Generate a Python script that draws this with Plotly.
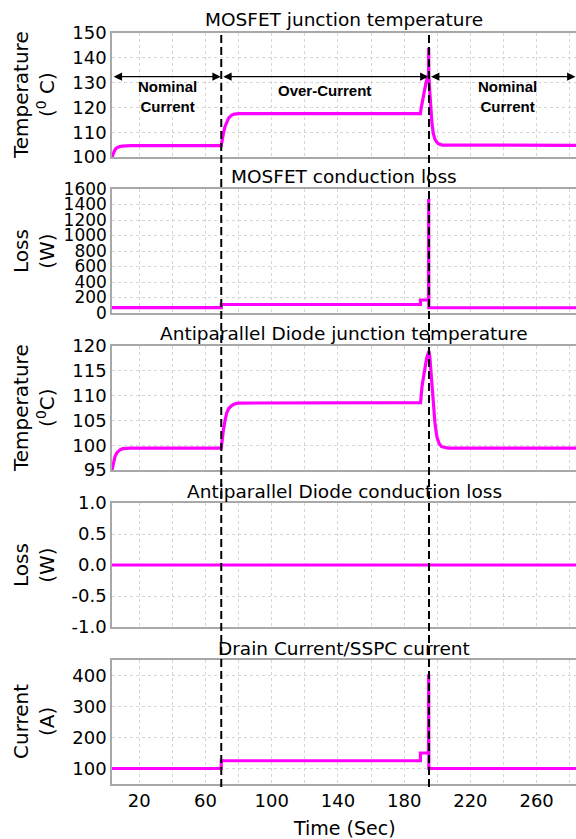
import plotly.graph_objects as go

# ---------------- data ----------------
# MOSFET junction temperature
t_mos_temp = [3.5, 4.3, 5.1, 6.0, 7.0, 8.1, 9.5, 12.1, 15.0, 69.5, 69.9, 70.8, 71.8, 72.8, 74.0, 75.8, 77.5, 80.0,
              189.8, 190.2, 190.8, 191.5, 192.3, 193.2, 194.0, 194.7, 194.8, 194.9, 195.5, 196.0, 196.8, 197.6,
              198.5, 199.6, 201.0, 203.0, 283.8]
v_mos_temp = [100.0, 101.6, 102.7, 103.5, 104.0, 104.2, 104.4, 104.5, 104.6, 104.6, 106.5, 109.6, 112.3, 114.2, 115.8,
              116.9, 117.3, 117.5,
              117.5, 119.5, 122.0, 124.5, 127.0, 130.0, 132.0, 133.5, 144.0, 133.0, 126.0, 120.3, 113.5, 109.5,
              107.3, 106.1, 105.2, 104.8, 104.7]

# MOSFET conduction loss
t_mos_loss = [3.5, 69.5, 69.5, 189.8, 189.8, 194.7, 194.8, 194.9, 283.8]
v_mos_loss = [70, 70, 110, 110, 168, 168, 1470, 68, 68]

# Antiparallel diode junction temperature
t_dio_temp = [3.5, 4.3, 5.3, 6.5, 8.3, 10.0, 12.4, 15.0, 69.5, 69.9, 70.8, 71.8, 72.8, 74.0, 75.8, 77.5, 79.8,
              189.9, 190.3, 190.8, 191.6, 192.6, 193.6, 194.6, 195.0, 195.5, 196.0, 196.6, 197.2, 197.9, 198.6,
              199.3, 200.0, 201.2, 202.6, 206.6, 283.8]
v_dio_temp = [95.0, 96.5, 97.7, 98.5, 99.05, 99.3, 99.4, 99.4, 99.4, 101.0, 103.1, 105.0, 106.5, 107.4, 108.0, 108.3,
              108.5,
              108.6, 110.5, 111.9, 113.6, 115.9, 117.6, 118.6, 119.0, 117.8, 115.3, 112.6, 109.9, 107.0, 104.5,
              102.7, 101.4, 100.3, 99.7, 99.4, 99.4]

# Antiparallel diode conduction loss
t_dio_loss = [3.5, 283.8]
v_dio_loss = [0.0, 0.0]

# Drain current / SSPC current
t_cur = [3.5, 69.5, 69.5, 189.8, 189.8, 194.7, 194.8, 194.9, 283.8]
v_cur = [100, 100, 125, 125, 150, 150, 404, 100, 100]

# event times (dashed markers)
t_events = [69.5, 195.0]

# axis ticks
x_grid = [20, 40, 60, 80, 100, 120, 140, 160, 180, 200, 220, 240, 260, 280]
x_labels = ["20", "", "60", "", "100", "", "140", "", "180", "", "220", "", "260", ""]

titles = ["MOSFET junction temperature", "MOSFET conduction loss",
          "Antiparallel Diode junction temperature", "Antiparallel Diode conduction loss",
          "Drain Current/SSPC current"]
ytitles = ["Temperature<br>(<sup>0</sup> C)", "Loss<br>(W)", "Temperature<br>(<sup>0</sup>C)",
           "Loss<br>(W)", "Current<br>(A)"]
y_ranges = [[100, 150], [0, 1600], [95, 120], [-1, 1], [50, 450]]
y_ticks = [[100, 110, 120, 130, 140, 150],
           [0, 200, 400, 600, 800, 1000, 1200, 1400, 1600],
           [95, 100, 105, 110, 115, 120],
           [-1.0, -0.5, 0.0, 0.5, 1.0],
           [100, 200, 300, 400]]
y_ticktext = [[str(v) for v in y_ticks[0]],
              [str(v) for v in y_ticks[1]],
              [str(v) for v in y_ticks[2]],
              ["-1.0", "-0.5", "0.0", "0.5", "1.0"],
              [str(v) for v in y_ticks[4]]]

# ---------------- layout geometry (pixels) ----------------
W, H = 576, 839
ML, MR, MT, MB = 112, 0, 33, 55
PW, PH = W - ML - MR, H - MT - MB
panels_px = [(33, 157), (189, 313), (346, 470), (503, 627), (660, 784)]
title_px = [19.5, 176.5, 333, 491, 648]


def py(p):
    return (H - MB - p) / PH


def px(p):
    return (p - ML) / PW


MAG = "#FF00FF"
FONT = "DejaVu Sans"
GRID = "#d6d6d6"
xs = [t_mos_temp, t_mos_loss, t_dio_temp, t_dio_loss, t_cur]
ys = [v_mos_temp, v_mos_loss, v_dio_temp, v_dio_loss, v_cur]

fig = go.Figure()
for i in range(5):
    sfx = "" if i == 0 else str(i + 1)
    fig.add_trace(go.Scatter(x=xs[i], y=ys[i], mode="lines",
                             line=dict(color=MAG, width=3.2),
                             xaxis="x" + sfx, yaxis="y" + sfx, showlegend=False,
                             hoverinfo="skip"))

layout = dict(width=W, height=H, margin=dict(l=ML, r=MR, t=MT, b=MB, pad=0),
              paper_bgcolor="white", plot_bgcolor="white",
              font=dict(family=FONT, color="black"), showlegend=False)

for i in range(5):
    sfx = "" if i == 0 else str(i + 1)
    top, bot = panels_px[i]
    layout["xaxis" + sfx] = dict(
        domain=[0, 1], anchor="y" + sfx, range=[3.5, 283.8],
        tickmode="array", tickvals=x_grid,
        ticktext=x_labels if i == 4 else [""] * len(x_grid),
        showticklabels=(i == 4), ticks="",
        tickfont=dict(size=18, family=FONT),
        showgrid=True, gridcolor=GRID, griddash="dot", gridwidth=1,
        showline=True, linecolor="#a8a8a8", linewidth=1.5, mirror=True,
        zeroline=False, **({} if i == 0 else {"matches": "x"}))
    layout["yaxis" + sfx] = dict(
        domain=[py(bot), py(top)], anchor="x" + sfx, range=y_ranges[i],
        tickmode="array", tickvals=y_ticks[i], ticktext=y_ticktext[i], ticks="",
        tickfont=dict(size=18 if i != 1 else 17, family=FONT),
        showgrid=True, gridcolor=GRID, griddash="dot", gridwidth=1,
        showline=True, linecolor="#a8a8a8", linewidth=1.5, mirror=False,
        zeroline=False, ticklabelstandoff=0)

fig.update_layout(**layout)

ann = []
for i in range(5):
    top, bot = panels_px[i]
    ann.append(dict(text=titles[i], xref="paper", yref="paper", x=0.5, y=py(title_px[i]),
                    xanchor="center", yanchor="middle", showarrow=False,
                    font=dict(size=18.5, family=FONT, color="black")))
    ann.append(dict(text=ytitles[i], xref="paper", yref="paper", x=px(34), y=py((top + bot) / 2),
                    xanchor="center", yanchor="middle", showarrow=False, textangle=-90,
                    font=dict(size=20, family=FONT, color="black")))

ann.append(dict(text="Time (Sec)", xref="paper", yref="paper", x=0.5, y=py(828),
                xanchor="center", yanchor="middle", showarrow=False,
                font=dict(size=19, family=FONT, color="black")))

# double-headed arrows and region labels in the top panel
arrow_y = 132.4
spans = [(3.6, 69.2), (69.8, 194.7), (195.3, 283.5)]
for a, b in spans:
    ann.append(dict(x=b, y=arrow_y, ax=a, ay=arrow_y, xref="x", yref="y", axref="x", ayref="y",
                    text="", showarrow=True, arrowhead=2, startarrowhead=2, arrowside="end+start",
                    arrowsize=1.2, startarrowsize=1.2, arrowwidth=1.4, arrowcolor="black",
                    standoff=0, startstandoff=0))

LAB = "Liberation Sans, Arial"
ann.append(dict(text="<b>Nominal<br>Current</b>", x=37.3, y=124.5, xref="x", yref="y",
                showarrow=False, xanchor="center", yanchor="middle",
                font=dict(size=15, family=LAB, color="black")))
ann.append(dict(text="<b>Over-Current</b>", x=131.8, y=127.0, xref="x", yref="y",
                showarrow=False, xanchor="center", yanchor="middle",
                font=dict(size=15, family=LAB, color="black")))
ann.append(dict(text="<b>Nominal<br>Current</b>", x=242.7, y=124.5, xref="x", yref="y",
                showarrow=False, xanchor="center", yanchor="middle",
                font=dict(size=15, family=LAB, color="black")))

fig.update_layout(annotations=ann)

# dashed event lines spanning all panels
shapes = []
for te in t_events:
    shapes.append(dict(type="line", xref="x", yref="paper", x0=te, x1=te,
                       y0=py(787), y1=py(32),
                       line=dict(color="black", width=2, dash="8px,4px")))
fig.update_layout(shapes=shapes)

fig.write_html("out.html")
